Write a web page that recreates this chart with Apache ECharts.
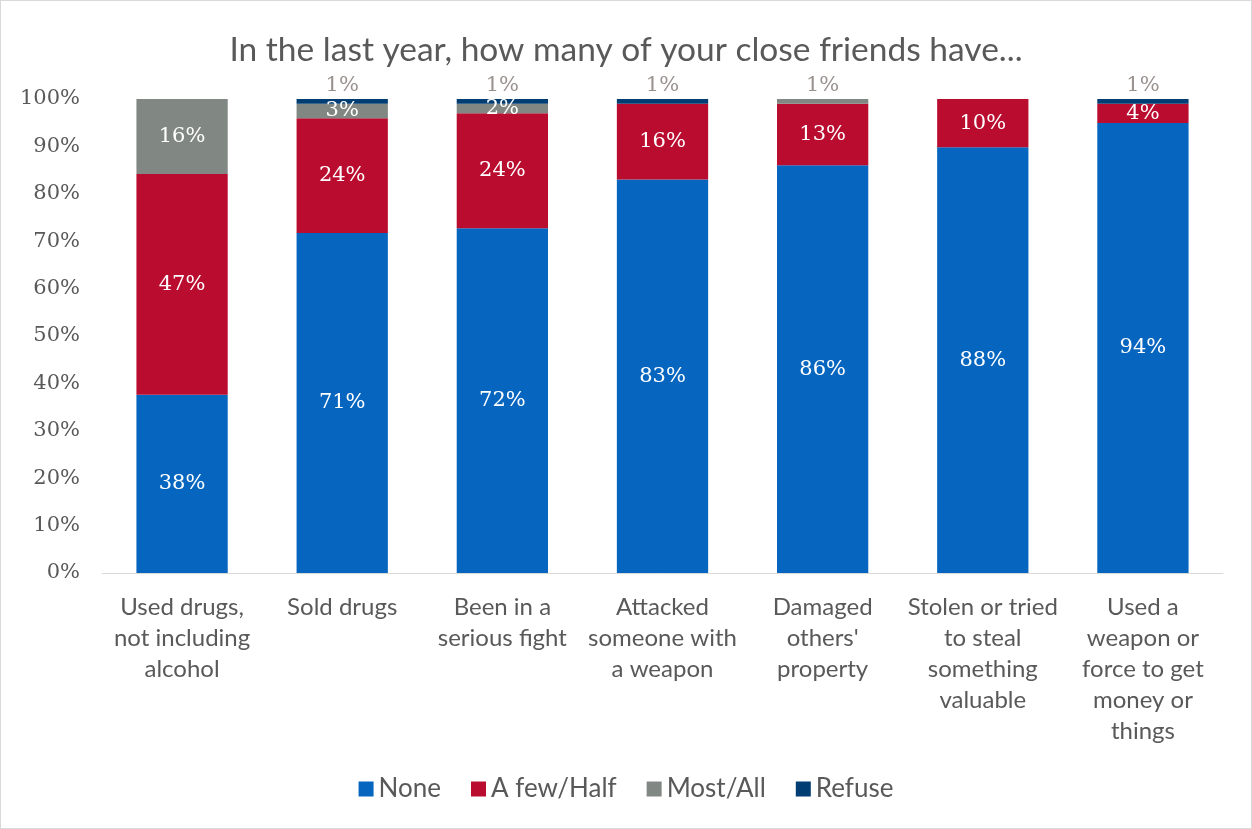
<!DOCTYPE html>
<html><head><meta charset="utf-8">
<script src="https://cdn.jsdelivr.net/npm/echarts@6/dist/echarts.min.js"></script>
<style>
html,body{margin:0;padding:0;background:#fff;}
#c{position:absolute;left:0;top:0;width:1250px;height:827px;border:1px solid #d9d9d9;}
</style></head>
<body><div id="c"></div>
<script>
const categories = ["Used drugs,\nnot including\nalcohol","Sold drugs","Been in a\nserious fight","Attacked\nsomeone with\na weapon","Damaged\nothers'\nproperty","Stolen or tried\nto steal\nsomething\nvaluable","Used a\nweapon or\nforce to get\nmoney or\nthings"];
const seriesNames = ["None","A few/Half","Most/All","Refuse"];
const none = [38,71,72,83,86,88,94];
const fewHalf = [47,24,24,16,13,10,4];
const mostAll = [16,3,2,0,1,0,0];
const refuse = [0,1,1,1,0,0,1];
const colors = ["#0565BF","#BA0C2F","#818782","#003D73"];

const raw = [none, fewHalf, mostAll, refuse];
const totals = categories.map((_, i) => raw.reduce((s, a) => s + a[i], 0));
const serifFont = "'DejaVu Serif', serif";
const sansFont = "Lato, 'Open Sans', sans-serif";

const series = raw.map((arr, si) => ({
  name: seriesNames[si],
  type: 'bar',
  stack: 'all',
  barCategoryGap: '43%',
  itemStyle: {color: colors[si]},
  data: arr.map((v, i) => {
    const item = {value: v / totals[i] * 100};
    const isTopSmall = v > 0 && v <= 1;
    item.label = {
      show: v > 0,
      position: isTopSmall ? 'top' : 'inside',
      color: isTopSmall ? '#9a928e' : '#ffffff',
      fontFamily: serifFont,
      fontSize: 21,
      distance: 3,
      formatter: () => Math.round(v) + '%'
    };
    return item;
  })
}));

const chart = echarts.init(document.getElementById('c'));
chart.setOption({
  animation: false,
  color: colors,
  title: {
    text: 'In the last year, how many of your close friends have...',
    left: 'center', top: 27,
    textStyle: {fontFamily: sansFont, fontSize: 33.5, fontWeight: 'normal', color: '#595959'}
  },
  legend: {
    bottom: 21, left: 'center',
    itemWidth: 15, itemHeight: 15, itemGap: 30,
    icon: 'rect',
    textStyle: {fontFamily: sansFont, fontSize: 26, color: '#595959'},
    data: seriesNames
  },
  grid: {left: 101, right: 28, top: 98, bottom: 255},
  xAxis: {
    type: 'category', data: categories,
    axisLine: {lineStyle: {color: '#d9d9d9'}},
    axisTick: {show: false},
    axisLabel: {interval: 0, fontFamily: sansFont, fontSize: 24, color: '#595959', lineHeight: 31, margin: 19}
  },
  yAxis: {
    type: 'value', min: 0, max: 100, interval: 10,
    splitLine: {show: false},
    axisLine: {show: false}, axisTick: {show: false},
    axisLabel: {formatter: '{value}%', fontFamily: serifFont, fontSize: 21, color: '#595959', margin: 22}
  },
  series: series
});
</script></body></html>
